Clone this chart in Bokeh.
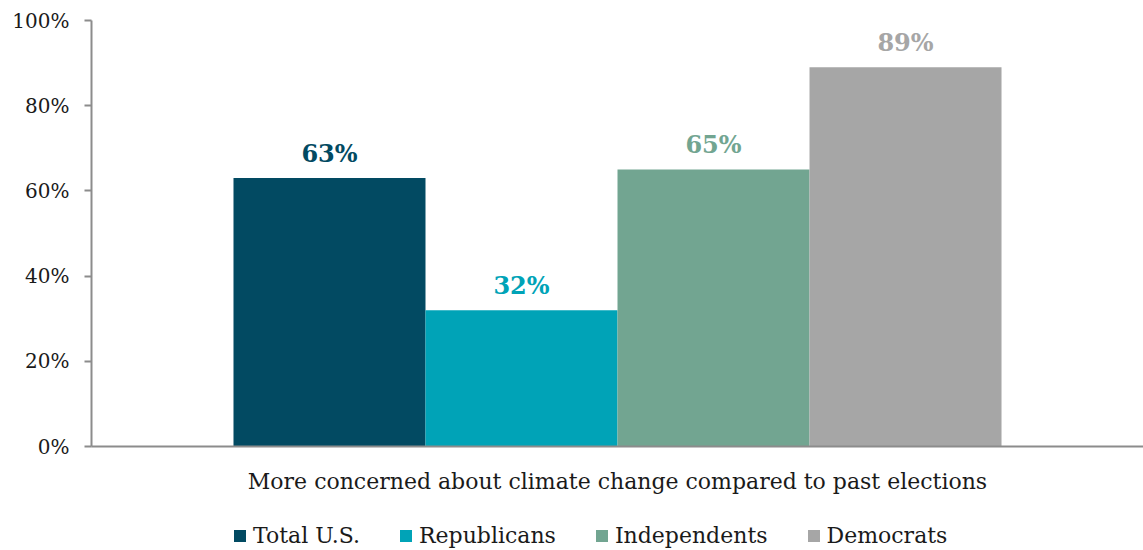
from bokeh.plotting import figure
from bokeh.layouts import column
from bokeh.models import ColumnDataSource, Range1d, FactorRange, FixedTicker, PrintfTickFormatter, Legend, LegendItem
from bokeh.core.properties import value
from bokeh.embed import file_html
from bokeh.resources import INLINE

category = "More concerned about climate change compared to past elections"
series = ["Total U.S.", "Republicans", "Independents", "Democrats"]
values = [63, 32, 65, 89]
colors = ["#024A62", "#00A3B7", "#72A591", "#A6A6A6"]
y_ticks = [0, 20, 40, 60, 80, 100]

FONT = "DejaVu Serif"
AXIS_GRAY = "#8C8C8C"

src = ColumnDataSource(dict(
    x=series,
    top=values,
    color=colors,
    label=[f"{v}%" for v in values],
))

p = figure(
    x_range=FactorRange(factors=series, factor_padding=0.0, range_padding=0.7395,
                        range_padding_units="absolute"),
    y_range=Range1d(0, 100),
    width=1143, height=510,
    min_border_left=91, min_border_right=0, min_border_top=20, min_border_bottom=64,
    output_backend="svg", toolbar_location=None,
    background_fill_color="white", border_fill_color="white",
)
p.outline_line_color = None
p.xgrid.visible = False
p.ygrid.visible = False

p.vbar(x="x", top="top", bottom=0, width=1.0, source=src,
       fill_color="color", line_color=None)

p.text(x="x", y="top", text="label", source=src, text_color="color",
       text_font=value(FONT), text_font_style="bold", text_font_size="24px",
       text_align="center", text_baseline="alphabetic", y_offset=-25)

# y axis
ya = p.yaxis[0]
ya.ticker = FixedTicker(ticks=y_ticks)
ya.formatter = PrintfTickFormatter(format="%d%%")
ya.axis_line_color = AXIS_GRAY
ya.axis_line_width = 2
ya.major_tick_line_color = AXIS_GRAY
ya.major_tick_line_width = 2
ya.major_tick_out = 7
ya.major_tick_in = 0
ya.minor_tick_line_color = None
ya.major_label_text_font = FONT
ya.major_label_text_font_size = "20px"
ya.major_label_text_color = "#1a1a1a"
ya.major_label_standoff = 15

# x axis: line and title only (no per-bar tick labels in the reference)
xa = p.xaxis[0]
xa.ticker = FixedTicker(ticks=[])
xa.axis_line_color = AXIS_GRAY
xa.axis_line_width = 2
xa.major_tick_line_color = None
xa.minor_tick_line_color = None
xa.major_label_text_font = FONT
xa.major_label_text_font_size = "20px"
xa.major_label_standoff = 0
xa.axis_label = category
xa.axis_label_text_font = FONT
xa.axis_label_text_font_size = "22px"
xa.axis_label_text_font_style = "normal"
xa.axis_label_text_color = "#1a1a1a"
xa.axis_label_standoff = 22

# legend strip (own small figure; its renderer is hidden, only the legend shows)
lf = figure(
    x_range=FactorRange(factors=series), y_range=Range1d(0, 100),
    width=1143, height=40,
    min_border_left=91, min_border_right=0, min_border_top=10, min_border_bottom=0,
    x_axis_type=None, y_axis_type=None,
    output_backend="svg", toolbar_location=None,
    background_fill_color="white", border_fill_color="white",
)
lf.outline_line_color = None
lf.xgrid.visible = False
lf.ygrid.visible = False
lr = lf.vbar(x="x", top="top", bottom=0, width=1.0, source=src,
             fill_color="color", line_color=None)
lr.visible = False

items = [LegendItem(label=s, renderers=[lr], index=i) for i, s in enumerate(series)]
legend = Legend(items=items, orientation="horizontal", location=(141, 2),
                glyph_width=15, glyph_height=15, label_standoff=6, spacing=38,
                padding=0, margin=0, border_line_color=None,
                background_fill_alpha=0,
                label_text_font=FONT, label_text_font_size="22px",
                label_text_color="#1a1a1a")
lf.add_layout(legend, "center")

layout = column(p, lf, spacing=0)
open("out.html", "w").write(file_html(layout, INLINE))
